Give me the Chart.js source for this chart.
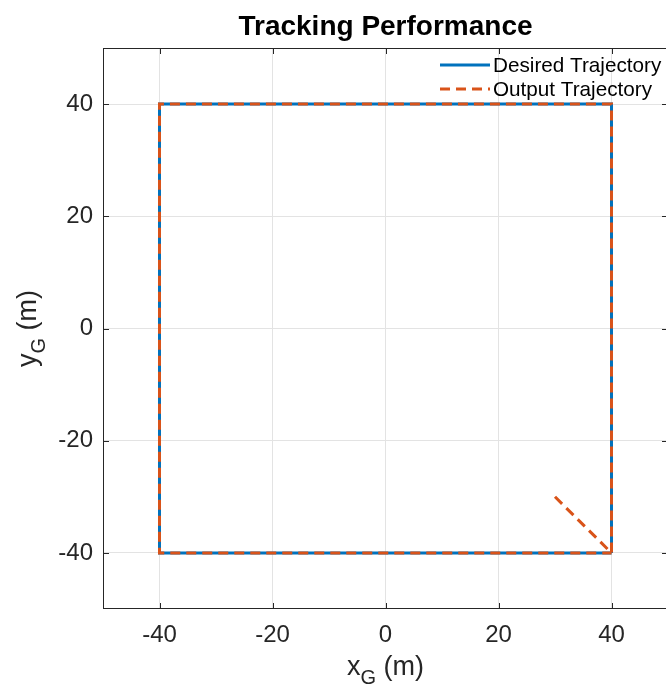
<!DOCTYPE html>
<html>
<head>
<meta charset="utf-8">
<script src="https://cdn.jsdelivr.net/npm/chart.js@4/dist/chart.umd.min.js"></script>
<style>
  html, body { margin: 0; padding: 0; overflow: hidden; background: #fff; }
  #wrap { position: absolute; left: 0; top: 0; width: 672px; height: 690px; }
</style>
</head>
<body>
<div id="wrap"><canvas id="trackChart" width="672" height="690"></canvas></div>
<script>
// trajectory data (metres)
const desiredX = [40, 40, -40, -40, 40];
const desiredY = [-40, 40, 40, -40, -40];
const outputX = [30, 40, 40, -40, -40, 40];
const outputY = [-30, -40, 40, 40, -40, -40];

const xTicks = [-40, -20, 0, 20, 40];
const yTicks = [-40, -20, 0, 20, 40];

const axisColor = '#262626';
const fontFam = '"Liberation Sans", Arial, Helvetica, sans-serif';

function toPoints(xs, ys) {
  return xs.map((x, i) => ({ x: x, y: ys[i] }));
}

// box, inward ticks, axis labels with subscripts, legend (MATLAB look)
const matlabAxes = {
  id: 'matlabAxes',
  afterDraw(chart) {
    const c = chart.ctx;
    const a = chart.chartArea;
    const xs = chart.scales.x, ys = chart.scales.y;
    c.save();
    c.strokeStyle = axisColor;
    c.lineWidth = 1;
    c.strokeRect(a.left + 0.5, a.top + 0.5, a.right - a.left - 1, a.bottom - a.top - 1);

    const tl = 6;
    c.beginPath();
    xTicks.forEach(v => {
      const px = Math.round(xs.getPixelForValue(v)) + 0.5;
      c.moveTo(px, a.bottom); c.lineTo(px, a.bottom - tl);
      c.moveTo(px, a.top); c.lineTo(px, a.top + tl);
    });
    yTicks.forEach(v => {
      const py = Math.round(ys.getPixelForValue(v)) + 0.5;
      c.moveTo(a.left, py); c.lineTo(a.left + tl, py);
      c.moveTo(a.right, py); c.lineTo(a.right - tl, py);
    });
    c.stroke();

    // axis labels
    function subLabel(main, sub, rest, x, y) {
      c.font = '27px ' + fontFam;
      const w1 = c.measureText(main).width;
      const w3 = c.measureText(rest).width;
      c.font = '20px ' + fontFam;
      const w2 = c.measureText(sub).width;
      const total = w1 + w2 + w3;
      let cx = x - total / 2;
      c.textAlign = 'left';
      c.textBaseline = 'alphabetic';
      c.fillStyle = axisColor;
      c.font = '27px ' + fontFam;
      c.fillText(main, cx, y);
      cx += w1;
      c.font = '20px ' + fontFam;
      c.fillText(sub, cx, y + 9);
      cx += w2;
      c.font = '27px ' + fontFam;
      c.fillText(rest, cx, y);
    }
    const midX = (a.left + a.right) / 2;
    subLabel('x', 'G', ' (m)', midX, 675);
    c.save();
    c.translate(36, (a.top + a.bottom) / 2);
    c.rotate(-Math.PI / 2);
    subLabel('y', 'G', ' (m)', 0, 0);
    c.restore();

    // legend
    const lx = a.right - 228;
    chart.data.datasets.forEach((ds, i) => {
      const ly = a.top + 17 + i * 24;
      c.beginPath();
      c.strokeStyle = ds.borderColor;
      c.lineWidth = ds.borderWidth;
      c.setLineDash(ds.borderDash || []);
      c.moveTo(lx, ly); c.lineTo(lx + 50, ly);
      c.stroke();
      c.setLineDash([]);
      c.fillStyle = '#000';
      c.font = '20.7px ' + fontFam;
      c.textAlign = 'left';
      c.textBaseline = 'middle';
      c.fillText(ds.label, lx + 53, ly + 1);
    });
    c.restore();
  }
};

new Chart(document.getElementById('trackChart').getContext('2d'), {
  type: 'line',
  data: {
    datasets: [
      {
        label: 'Desired Trajectory',
        data: toPoints(desiredX, desiredY),
        borderColor: '#0072BD',
        borderWidth: 3,
        pointRadius: 0,
        tension: 0,
        fill: false,
        order: 2
      },
      {
        label: 'Output Trajectory',
        data: toPoints(outputX, outputY),
        borderColor: '#D95319',
        borderWidth: 3,
        borderDash: [10, 6],
        pointRadius: 0,
        tension: 0,
        fill: false,
        order: 1
      }
    ]
  },
  options: {
    responsive: false,
    animation: false,
    layout: { padding: { left: 0, right: 4, top: 0, bottom: 0 } },
    plugins: {
      legend: { display: false },
      tooltip: { enabled: false },
      title: {
        display: true,
        text: 'Tracking Performance',
        color: '#000',
        fullSize: false,
        font: { family: fontFam, size: 28, weight: 'bold', lineHeight: 1.2 },
        padding: { top: 10, bottom: 4.4 }
      }
    },
    scales: {
      x: {
        type: 'linear',
        min: -50,
        max: 50,
        afterFit(scale) { scale.height = 81; },
        afterBuildTicks(scale) { scale.ticks = xTicks.map(v => ({ value: v })); },
        grid: { color: '#e3e3e3', drawTicks: false },
        border: { display: false },
        ticks: { color: axisColor, padding: 12, maxRotation: 0, font: { family: fontFam, size: 24 } }
      },
      y: {
        type: 'linear',
        min: -50,
        max: 50,
        afterFit(scale) { scale.width = 103; },
        afterBuildTicks(scale) { scale.ticks = yTicks.map(v => ({ value: v })); },
        grid: { color: '#e3e3e3', drawTicks: false },
        border: { display: false },
        ticks: { color: axisColor, padding: 10, font: { family: fontFam, size: 24 } }
      }
    }
  },
  plugins: [matlabAxes]
});
</script>
</body>
</html>
